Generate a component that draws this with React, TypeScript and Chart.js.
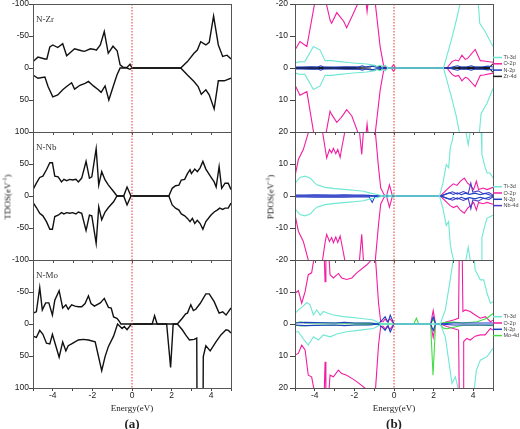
import React, { useEffect, useRef } from 'react';
import { Chart, registerables } from 'chart.js';
Chart.register(...registerables);

type P = [number, number][];

// ---------- TDOS (left column) ----------
const X_TICKS = [-4, -2, 0, 2, 4];
const TDOS_TICKS = [-100, -50, 0, 50, 100];
const PDOS_TICKS = [-20, -10, 0, 10, 20];
const PANEL_NAMES = ['N-Zr', 'N-Nb', 'N-Mo'];

const ZR_UP: P = [[-5,-10],[-4.75,-17],[-4.4,-14],[-4.3,-14],[-4.15,-33],[-4,-36],[-3.75,-32],[-3.5,-38],[-3.3,-19],[-2.9,-30],[-2.55,-27],[-2.4,-26],[-2.1,-30],[-1.9,-29],[-1.8,-28],[-1.6,-36],[-1.4,-57],[-1.2,-23],[-0.96,-34],[-0.75,-27],[-0.6,-5],[-0.45,-1],[-0.25,-1],[-0.1,-6],[0,0],[2.46,0],[2.8,-10],[3.13,-23],[3.3,-28],[3.47,-41],[3.73,-36],[3.9,-40],[4.12,-81],[4.36,-36],[4.58,-18],[4.8,-20],[5,-14]];
const ZR_DN: P = [[-5,11],[-4.75,16],[-4.4,14],[-4.24,29],[-4,45],[-3.75,42],[-3.5,34],[-3.3,29],[-3.05,23],[-2.9,33],[-2.63,27],[-2.37,24],[-2.2,21],[-1.95,28],[-1.7,34],[-1.56,38],[-1.36,28],[-1.17,50],[-0.93,27],[-0.76,11],[-0.6,0],[-0.25,0],[-0.1,2],[0,0],[2.46,0],[2.8,11],[3.13,21],[3.34,29],[3.5,41],[3.73,34],[3.9,42],[4.15,64],[4.36,20],[4.66,20],[5,16]];
const NB_UP: P = [[-5,10],[-4.83,20],[-4.66,29],[-4.5,31],[-4.32,41],[-4.15,52],[-4.02,52],[-3.9,31],[-3.73,30],[-3.56,22],[-3.44,26],[-3.3,24],[-3.14,26],[-3,25],[-2.83,26],[-2.71,22],[-2.54,28],[-2.32,54],[-2.15,28],[-2.03,30],[-1.81,74],[-1.68,17],[-1.53,38],[-1.36,25],[-1.19,17],[-0.93,7],[-0.76,0],[-0.42,0],[-0.25,14],[-0.05,0],[1.86,0],[2.03,12],[2.2,16],[2.37,17],[2.49,25],[2.66,26],[2.8,35],[2.93,41],[3,35],[3.17,42],[3.3,38],[3.44,44],[3.58,54],[3.73,42],[3.98,30],[4.15,22],[4.25,14],[4.4,46],[4.53,12],[4.7,20],[4.86,20],[5,10]];
const NB_DN: P = [[-5,-10],[-4.83,-18],[-4.66,-27],[-4.5,-31],[-4.32,-40],[-4.15,-52],[-4.02,-52],[-3.9,-32],[-3.73,-30],[-3.56,-26],[-3.44,-28],[-3.3,-26],[-3.14,-27],[-3,-26],[-2.83,-28],[-2.71,-25],[-2.54,-27],[-2.32,-54],[-2.15,-30],[-2.03,-31],[-1.81,-74],[-1.68,-17],[-1.53,-37],[-1.36,-25],[-1.19,-18],[-0.93,-9],[-0.76,0],[-0.42,0],[-0.25,-14],[-0.05,0],[1.86,0],[2.03,-14],[2.2,-19],[2.37,-22],[2.49,-28],[2.66,-31],[2.8,-35],[2.93,-40],[3.05,-35],[3.17,-43],[3.3,-38],[3.44,-43],[3.58,-52],[3.73,-40],[3.98,-30],[4.15,-25],[4.3,-22],[4.43,-19],[4.58,-21],[4.7,-19],[4.86,-19],[5,-11]];
const MO_UP: P = [[-5,-17],[-4.83,-19],[-4.66,-57],[-4.53,-22],[-4.36,-33],[-4.2,-33],[-4.02,-14],[-3.9,-37],[-3.68,-52],[-3.5,-25],[-3.34,-30],[-3.22,-23],[-3.05,-30],[-2.88,-28],[-2.71,-27],[-2.54,-27],[-2.37,-32],[-2.2,-44],[-2.07,-32],[-1.9,-28],[-1.6,-33],[-1.4,-40],[-1.19,-26],[-1.05,-25],[-0.93,-11],[-0.76,-9],[-0.64,-4],[-0.56,0],[1.02,0],[1.14,-13],[1.27,0],[2.29,0],[2.54,-9],[2.71,-16],[2.8,-17],[2.97,-30],[3.1,-21],[3.22,-23],[3.44,-32],[3.73,-47],[3.9,-47],[4.15,-35],[4.4,-17],[4.58,-19],[4.75,-14],[5,-25]];
const MO_DN: P = [[-5,19],[-4.83,21],[-4.66,10],[-4.5,16],[-4.32,30],[-4.15,31],[-4.02,16],[-3.85,34],[-3.68,52],[-3.5,28],[-3.34,42],[-3.22,34],[-3.05,31],[-2.88,28],[-2.71,25],[-2.46,24],[-2.2,25],[-1.86,28],[-1.53,73],[-1.36,51],[-1.19,35],[-0.93,19],[-0.73,0],[-0.5,7],[-0.39,4],[-0.25,9],[-0.03,0],[1.75,0],[1.95,68],[2.08,0],[2.29,0],[2.54,9],[2.71,17],[2.9,25],[3.14,24],[3.27,22],[3.32,400],[3.55,400],[3.6,51],[3.73,34],[3.95,42],[4.24,28],[4.49,17],[4.75,9],[4.87,10],[5,14]];

// ---------- PDOS (right column) ----------
const ZR_TI_UP: P = [[-5,-1.5],[-4.83,-1.9],[-4.5,-2],[-4.07,-6.7],[-3.73,-5.6],[-3.48,-2.3],[-3.15,-2.3],[-2.72,-2],[-2.3,-1.7],[-1.88,-1.5],[-1.37,-1.25],[-1.04,-0.9],[-0.87,-0.5],[-0.7,-0.9],[-0.6,-0.3],[-0.45,-0.9],[-0.3,0],[2.5,0],[2.9,-8.8],[3.15,-15],[3.35,-20.5],[3.8,-30],[4.25,-21],[4.33,-14],[4.6,-11.4],[5,-6.7]];
const ZR_TI_DN: P = [[-5,1.5],[-4.83,1.9],[-4.5,2],[-4.07,6.7],[-3.73,5.6],[-3.48,2.3],[-3.15,2.3],[-2.72,2],[-2.3,1.7],[-1.88,1.5],[-1.37,1.25],[-1.04,0.9],[-0.87,0.5],[-0.7,0.9],[-0.6,0.3],[-0.45,0.9],[-0.3,0],[2.5,0],[2.9,9],[3.15,15.2],[3.31,20.5],[3.8,30],[4.3,21],[4.4,14.2],[4.7,11],[5,6.4]];
const ZR_O_UP: P = [[-5,-5.6],[-4.75,-8.3],[-4.4,-6.7],[-4.0,-20.5],[-3.7,-30],[-3.45,-21],[-3.23,-15],[-3.15,-14],[-2.89,-17.3],[-2.67,-15.6],[-2.55,-14.7],[-2.39,-12.6],[-2.13,-16],[-1.8,-20.5],[-1.6,-25],[-1.41,-20.5],[-1.36,-17.6],[-1.3,-21],[-1.1,-28],[-0.95,-20.5],[-0.7,-6.7],[-0.53,-0.9],[-0.36,0],[-0.15,0],[-0.03,-1],[0.1,0],[2.67,0],[2.93,-2],[3.1,-2.5],[3.26,-2.2],[3.43,-4],[3.6,-2.7],[3.72,-3],[4.1,-5.8],[4.36,-2.3],[4.53,-2.2],[5,-1.8]];
const ZR_O_DN: P = [[-5,5.3],[-4.75,8.5],[-4.4,7.4],[-4.05,20.5],[-3.7,30],[-3.45,21],[-3.23,13.5],[-3.15,14.5],[-2.89,17],[-2.67,15.5],[-2.55,14.5],[-2.39,13],[-2.13,15],[-1.8,20.5],[-1.6,25],[-1.41,20.5],[-1.36,17.5],[-1.3,21],[-1.1,28],[-0.95,20.5],[-0.7,7],[-0.53,1],[-0.36,0],[-0.15,0],[-0.03,1],[0.1,0],[2.67,0],[2.93,2],[3.1,2.6],[3.26,2.3],[3.43,4],[3.6,2.9],[3.72,3.2],[4.1,5.8],[4.36,2.3],[4.53,2.2],[5,1.6]];
const ZR_N_UP: P = [[-5,-0.3],[-4.6,-0.3],[-4.2,-0.4],[-3.85,-0.3],[-3.7,-0.7],[-3.55,-0.3],[-3,-0.3],[-2.4,-0.4],[-1.8,-0.3],[-1.6,-0.7],[-1.45,-0.3],[-1.15,-0.6],[-0.95,-0.3],[-0.7,-0.2],[-0.5,0],[2.75,0],[3,-0.4],[3.2,-0.7],[3.4,-0.3],[3.7,-0.4],[3.9,-0.7],[4.1,-0.3],[4.5,-0.4],[4.75,-0.6],[5,-0.3]];
const ZR_N_DN: P = [[-5,0.3],[-4.6,0.3],[-4.2,0.4],[-3.85,0.3],[-3.7,0.7],[-3.55,0.3],[-3,0.3],[-2.4,0.4],[-1.8,0.3],[-1.6,0.7],[-1.45,0.3],[-1.15,0.6],[-0.95,0.3],[-0.7,0.2],[-0.5,0],[2.75,0],[3,0.4],[3.2,0.7],[3.4,0.3],[3.7,0.4],[3.9,0.7],[4.1,0.3],[4.5,0.4],[4.75,0.6],[5,0.3]];
const ZR_D_UP: P = [[-5,-0.15],[-4,-0.2],[-3,-0.15],[-2,-0.2],[-1.2,-0.3],[-1.0,-0.8],[-0.85,-0.3],[-0.6,-0.5],[-0.45,0],[2.8,0],[3.5,-0.2],[4.3,-0.2],[4.82,-0.2],[5,-1.3]];
const ZR_D_DN: P = [[-5,0.15],[-4,0.2],[-3,0.15],[-2,0.2],[-1.2,0.3],[-1.0,0.8],[-0.85,0.3],[-0.6,0.5],[-0.45,0],[2.8,0],[3.5,0.2],[4.3,0.2],[4.82,0.2],[5,1.3]];

const NB_TI_UP: P = [[-5,4],[-4.92,4.6],[-4.75,5.8],[-4.5,6.2],[-4.24,5.6],[-3.9,3.5],[-3.48,2.7],[-2.98,2.3],[-2.39,2],[-1.88,1.7],[-1.54,1.5],[-1.2,0.9],[-0.95,0.6],[-0.75,0.3],[-0.5,0],[-0.35,0.4],[-0.2,0],[-0.05,0.4],[0.1,0],[2.3,0],[2.47,4],[2.64,9.8],[2.76,8.8],[2.84,15],[2.93,17],[3.05,21],[3.4,28],[3.6,21],[3.75,16],[3.9,22],[4.2,30],[4.4,20.5],[4.44,13],[4.6,9],[4.7,7.2],[4.85,7.2],[5,5.6]];
const NB_TI_DN: P = [[-5,-4],[-4.92,-4.6],[-4.75,-5.8],[-4.5,-6.2],[-4.24,-5.6],[-3.9,-3.5],[-3.48,-2.7],[-2.98,-2.3],[-2.39,-2],[-1.88,-1.7],[-1.54,-1.5],[-1.2,-0.9],[-0.95,-0.6],[-0.75,-0.3],[-0.5,0],[-0.35,-0.4],[-0.2,0],[-0.05,-0.4],[0.1,0],[2.3,0],[2.47,-3.8],[2.64,-9.2],[2.76,-8],[2.84,-15],[2.93,-18],[3.05,-21],[3.4,-28],[3.6,-21],[3.75,-16],[3.9,-22],[4.2,-30],[4.4,-20.5],[4.44,-13],[4.6,-9],[4.7,-6.9],[4.85,-6.5],[5,-6]];
const NB_O_UP: P = [[-5,6.2],[-4.83,11.4],[-4.58,14.5],[-4.33,19.7],[-4.0,27],[-3.62,20.5],[-3.48,15],[-3.4,11.9],[-3.26,14.5],[-3.15,13.5],[-3.06,14.9],[-2.94,13.2],[-2.84,14.5],[-2.72,12.1],[-2.64,15],[-2.47,20.5],[-2.1,27],[-1.75,20.5],[-1.63,13],[-1.54,20.5],[-1.2,27],[-0.95,20.5],[-0.78,8.8],[-0.67,2.5],[-0.5,0.4],[-0.38,0],[-0.23,3.5],[-0.08,0],[2.34,0],[2.59,1.5],[2.84,3],[3.0,3.8],[3.18,3.3],[3.35,4.6],[3.55,5.6],[3.72,4],[3.9,3],[4.02,2],[4.16,4.6],[4.27,2],[4.5,2.5],[4.7,2],[5,2.7]];
const NB_O_DN: P = [[-5,-5.8],[-4.83,-11],[-4.58,-14.2],[-4.33,-20],[-4.0,-27],[-3.62,-20.5],[-3.48,-14.5],[-3.4,-12],[-3.26,-14.2],[-3.15,-13],[-3.06,-14.6],[-2.94,-12.8],[-2.84,-14.5],[-2.72,-12.5],[-2.64,-15],[-2.47,-20.5],[-2.1,-27],[-1.75,-20.5],[-1.63,-12],[-1.54,-20.5],[-1.2,-27],[-0.95,-20.5],[-0.78,-8.8],[-0.67,-2.5],[-0.5,-0.4],[-0.38,0],[-0.23,-3.5],[-0.08,0],[2.34,0],[2.59,-1.5],[2.84,-3],[3.0,-3.6],[3.18,-3.1],[3.35,-4.4],[3.55,-5.4],[3.72,-3.8],[3.9,-2.8],[4.02,-2],[4.16,-4.4],[4.27,-2],[4.5,-2.4],[4.7,-2],[5,-2.6]];
const NB_N_UP: P = [[-5,0.3],[-4.5,0.3],[-4,0.4],[-3,0.3],[-2.5,0.4],[-2,0.3],[-1.5,0.3],[-1.25,0.2],[-1.0,0],[2.35,0],[2.6,0.6],[2.8,1],[3.0,0.5],[3.2,1],[3.4,0.4],[3.6,0.9],[3.8,0.5],[4.1,0.9],[4.35,0.4],[4.6,0.8],[4.85,0.3],[5,0.2]];
const NB_N_DN: P = [[-5,-0.3],[-4.5,-0.3],[-4,-0.4],[-3,-0.3],[-2.5,-0.4],[-2,-0.3],[-1.5,-0.3],[-1.25,-0.3],[-1.1,-2],[-0.95,0],[2.35,0],[2.6,-0.6],[2.8,-1],[3.0,-0.5],[3.2,-1],[3.4,-0.4],[3.6,-0.9],[3.8,-0.5],[4.1,-0.9],[4.35,-0.4],[4.6,-0.8],[4.85,-0.3],[5,-0.2]];
const NB_D_UP: P = [[-5,0.1],[-2,0.1],[-0.8,0.1],[-0.5,0],[2.4,0],[2.7,0.7],[2.95,1.3],[3.2,0.6],[3.5,1.4],[3.75,0.8],[3.88,4],[3.98,1.2],[4.25,1.6],[4.5,0.7],[4.8,1.1],[5,0.3]];
const NB_D_DN: P = [[-5,-0.1],[-2,-0.1],[-0.8,-0.1],[-0.5,0],[2.4,0],[2.7,-0.7],[2.95,-1.3],[3.2,-0.6],[3.5,-1.4],[3.75,-0.8],[3.88,-4],[3.98,-1.2],[4.25,-1.6],[4.5,-0.7],[4.8,-1.1],[5,-0.3]];

const MO_TI_UP: P = [[-5,-3.3],[-4.83,-4.4],[-4.6,-5.5],[-4.4,-6.7],[-4.24,-6],[-4.07,-2.8],[-3.9,-4.4],[-3.73,-2.8],[-3.57,-3.9],[-3.31,-3.3],[-3.06,-2.8],[-2.55,-2.3],[-1.71,-1.8],[-1.04,-1.25],[-0.78,-0.4],[-0.6,0],[-0.2,0],[2.34,0],[2.59,-4.4],[2.84,-13.8],[3.0,-20.5],[3.4,-30],[4.0,-24],[4.1,-16.9],[4.36,-13.8],[4.53,-13.8],[4.7,-9.6],[4.87,-6.5],[5,-7]];
const MO_TI_DN: P = [[-5,2.4],[-4.83,2.4],[-4.6,4.5],[-4.33,6.6],[-4.07,4],[-3.82,5],[-3.57,3.4],[-3.23,4],[-2.89,3.1],[-2.39,2.4],[-1.71,1.9],[-1.04,1.4],[-0.71,0.3],[-0.6,0],[-0.2,0],[2.34,0],[2.59,4],[2.76,11.3],[2.93,18.6],[3.1,16.5],[3.25,20.5],[3.6,28],[4.05,20.5],[4.16,14.4],[4.36,11.3],[4.7,10.2],[5,7.6]];
const MO_O_UP: P = [[-5,-9.6],[-4.83,-10.4],[-4.66,-6.5],[-4.49,-10.1],[-4.33,-15.4],[-4.16,-16],[-4.04,-20.5],[-3.75,-27],[-3.52,-20.5],[-3.48,-13.2],[-3.44,-20.5],[-3.35,-22],[-3.28,-20.5],[-3.23,-15.4],[-3.06,-14.4],[-2.81,-15.8],[-2.64,-14.4],[-2.39,-13.9],[-2.13,-14.4],[-1.88,-16],[-1.37,-18.5],[-1.1,-20.3],[-1.0,-22],[-0.93,-20],[-0.78,-6.5],[-0.67,-0.7],[-0.55,-0.7],[-0.45,-1.6],[-0.35,-0.7],[-0.2,-1.6],[0,0],[1.85,0],[1.98,-4.2],[2.1,0],[2.34,0],[2.67,-0.7],[3.0,-1.25],[3.26,-1.8],[3.31,-30],[3.43,-30],[3.48,-3.9],[3.6,-4.4],[3.85,-3.9],[4.1,-2.8],[4.36,-1.8],[4.61,-2.3],[4.87,-0.7],[5,-1.2]];
const MO_O_DN: P = [[-5,9.7],[-4.83,9.2],[-4.66,6.6],[-4.49,8.1],[-4.33,16],[-4.16,16.5],[-4.04,20.5],[-3.75,27],[-3.52,20.5],[-3.48,11.8],[-3.44,20.5],[-3.35,22],[-3.28,20.5],[-3.23,16],[-3.06,16.5],[-2.81,14.4],[-2.64,15.5],[-2.39,16],[-2.13,17],[-1.88,18],[-1.37,20.5],[-1.0,22],[-0.93,20],[-0.78,6.5],[-0.67,0.7],[-0.55,0.7],[-0.45,1.6],[-0.35,0.7],[-0.2,1.6],[0,0],[1.85,0],[1.98,4.2],[2.1,0],[2.34,0],[2.67,0.8],[3.0,1.4],[3.26,1.9],[3.31,30],[3.5,30],[3.52,5.5],[3.68,4.5],[3.85,5],[4.1,3.8],[4.36,3.4],[4.6,3.4],[4.87,1.4],[5,1.9]];
const MO_N_UP: P = [[-5,-0.3],[-4.5,-0.5],[-3,-0.3],[-2.5,-0.5],[-2,-0.3],[-1.2,-0.3],[-0.8,0],[-0.6,-1.2],[-0.45,-2.3],[-0.3,-0.5],[-0.19,-2.8],[0,0],[1.85,0],[1.98,-2.2],[2.1,0],[2.3,0],[3,-0.3],[4,-0.3],[5,-0.3]];
const MO_N_DN: P = [[-5,0.3],[-4.5,0.5],[-3,0.3],[-2.5,0.5],[-2,0.3],[-1.2,0.3],[-0.8,0],[-0.6,1],[-0.45,2],[-0.3,0.5],[-0.19,2.5],[0,0],[1.85,0],[1.98,2],[2.1,0],[2.3,0],[3,0.3],[4,0.3],[5,0.3]];
const MO_D_UP: P = [[-5,-0.3],[-4.7,-0.7],[-4.5,-0.3],[-3,-0.3],[-1,-0.2],[-0.5,0],[1.0,0],[1.13,-1.8],[1.25,0],[1.85,0],[1.98,-1.5],[2.1,0],[2.3,0],[2.6,-0.5],[3.0,-0.6],[3.5,-0.3],[4.2,-0.7],[4.7,-1.8],[5,-3.3]];
const MO_D_DN: P = [[-5,0.4],[-4.7,0.6],[-4,0.4],[-2,0.3],[-0.5,0],[1.85,0],[1.97,16],[2.1,0],[2.3,0],[2.5,1.3],[2.7,1.5],[3,1],[3.5,0.4],[4.5,0.4],[5,0.5]];

const C_TI = '#6ee8d4';
const C_O = '#f21da0';
const C_N = '#1c3fc4';
const C_ZR = '#1a1a1a';
const C_NB = '#4b3bc9';
const C_MO = '#44dd44';

const LEGENDS: [string, string][][] = [
  [['Ti-3d', C_TI], ['O-2p', C_O], ['N-2p', C_N], ['Zr-4d', C_ZR]],
  [['Ti-3d', C_TI], ['O-2p', C_O], ['N-2p', C_N], ['Nb-4d', C_NB]],
  [['Ti-3d', C_TI], ['O-2p', C_O], ['N-2p', C_N], ['Mo-4d', C_MO]],
];

const IDS = ['y1', 'y2', 'y3'];

type Series = { pts: P; color: string; panel: number; width?: number };

function makeConfig(o: {
  yW: number; padRight: number; tickLen: number; tickPad: number;
  lim: number; step: number; reverse: boolean[];
  series: Series[]; labels?: string[]; legends?: [string, string][][]; legendOff?: number[];
}): any {
  const datasets: any[] = [];
  IDS.forEach((id) => {
    datasets.push({
      data: [{ x: 0, y: -o.lim }, { x: 0, y: o.lim }],
      borderColor: '#ee3030', borderWidth: 1, borderDash: [1.5, 1.5],
      pointRadius: 0, yAxisID: id, xAxisID: 'x',
    });
  });
  o.series.forEach((s) => {
    datasets.push({
      data: s.pts.map(([x, y]) => ({ x, y })),
      borderColor: s.color, borderWidth: s.width ?? 1.1, pointRadius: 0,
      tension: 0, fill: false, yAxisID: IDS[s.panel], xAxisID: 'x',
    });
  });
  const scales: any = {
    x: {
      type: 'linear', position: 'bottom', min: -5, max: 5,
      ticks: {
        stepSize: 1, autoSkip: false, maxRotation: 0, padding: 0,
        font: { family: 'Liberation Sans', size: 8.5 }, color: '#222',
        callback: (v: any) => (X_TICKS.includes(Number(v)) ? String(v) : ''),
      },
      grid: { drawOnChartArea: false, tickLength: 3, color: '#444' },
      border: { display: true, color: '#444' },
      afterFit: (s: any) => { s.height = 41; s.paddingLeft = 0; s.paddingRight = 0; },
    },
  };
  IDS.forEach((id, i) => {
    scales[id] = {
      type: 'linear', position: 'left', stack: 'col', stackWeight: 1, weight: 3 - i,
      min: -o.lim, max: o.lim, reverse: o.reverse[i],
      ticks: {
        stepSize: o.step, padding: o.tickPad,
        font: { family: 'Liberation Sans', size: 8.5 }, color: '#222',
        // the middle panel shares its end labels with the neighbours
        callback: (v: any) => (i === 1 && Math.abs(Number(v)) === o.lim ? '' : String(v)),
      },
      grid: { drawOnChartArea: false, tickLength: o.tickLen, color: '#444' },
      border: { display: true, color: '#444' },
      afterFit: (s: any) => { s.width = o.yW; s.paddingTop = 0; s.paddingBottom = 0; },
    };
  });
  const deco = {
    id: 'deco',
    beforeDatasetDraw(chart: any, args: any) {
      const ys = chart.scales[args.meta.yAxisID];
      const { left, right } = chart.chartArea;
      const ctx = chart.ctx;
      ctx.save();
      ctx.beginPath();
      ctx.rect(left, ys.top, right - left, ys.bottom - ys.top);
      ctx.clip();
    },
    afterDatasetDraw(chart: any) { chart.ctx.restore(); },
    afterDraw(chart: any) {
      const ctx = chart.ctx;
      const { left, right } = chart.chartArea;
      const xs = chart.scales.x;
      ctx.save();
      IDS.forEach((id, i) => {
        const ys = chart.scales[id];
        ctx.strokeStyle = '#555';
        ctx.lineWidth = 1;
        ctx.strokeRect(Math.round(left) + 0.5, Math.round(ys.top) + 0.5, Math.round(right - left), Math.round(ys.bottom - ys.top));
        if (i < 2) {
          ctx.beginPath();
          for (let v = -5; v <= 5; v++) {
            const px = Math.round(xs.getPixelForValue(v)) + 0.5;
            ctx.moveTo(px, ys.bottom);
            ctx.lineTo(px, ys.bottom + 3);
          }
          ctx.stroke();
        }
        if (o.labels) {
          ctx.fillStyle = '#333';
          ctx.font = '9px "Liberation Serif"';
          ctx.textBaseline = 'middle';
          ctx.textAlign = 'left';
          ctx.fillText(o.labels[i], left + 3, ys.top + 16);
        }
        if (o.legends && o.legendOff) {
          o.legends[i].forEach(([name, col], j) => {
            const y = ys.top + o.legendOff![i] + 6.3 * j;
            ctx.strokeStyle = col;
            ctx.lineWidth = 1.5;
            ctx.beginPath();
            ctx.moveTo(right, y);
            ctx.lineTo(right + 9, y);
            ctx.stroke();
            ctx.fillStyle = '#444';
            ctx.font = '5.5px "Liberation Sans"';
            ctx.textBaseline = 'middle';
            ctx.textAlign = 'left';
            ctx.fillText(name, right + 10.5, y);
          });
        }
      });
      ctx.restore();
    },
  };
  return {
    type: 'line',
    data: { datasets },
    options: {
      responsive: false, maintainAspectRatio: false, animation: false, events: [],
      layout: { padding: { left: 0, top: 4, right: o.padRight, bottom: 0 } },
      plugins: { legend: { display: false }, tooltip: { enabled: false } },
      scales,
    },
    plugins: [deco],
  };
}

const LEFT_SERIES: Series[] = [
  { pts: ZR_UP, color: '#111', panel: 0, width: 1.4 },
  { pts: ZR_DN, color: '#111', panel: 0, width: 1.4 },
  { pts: NB_UP, color: '#111', panel: 1, width: 1.4 },
  { pts: NB_DN, color: '#111', panel: 1, width: 1.4 },
  { pts: MO_UP, color: '#111', panel: 2, width: 1.4 },
  { pts: MO_DN, color: '#111', panel: 2, width: 1.4 },
];

const RIGHT_SERIES: Series[] = [
  { pts: ZR_TI_UP, color: C_TI, panel: 0 }, { pts: ZR_TI_DN, color: C_TI, panel: 0 },
  { pts: ZR_N_UP, color: C_N, panel: 0 }, { pts: ZR_N_DN, color: C_N, panel: 0 },
  { pts: ZR_D_UP, color: C_ZR, panel: 0 }, { pts: ZR_D_DN, color: C_ZR, panel: 0 },
  { pts: ZR_O_UP, color: C_O, panel: 0 }, { pts: ZR_O_DN, color: C_O, panel: 0 },
  { pts: NB_TI_UP, color: C_TI, panel: 1 }, { pts: NB_TI_DN, color: C_TI, panel: 1 },
  { pts: NB_N_UP, color: C_N, panel: 1 }, { pts: NB_N_DN, color: C_N, panel: 1 },
  { pts: NB_D_UP, color: C_NB, panel: 1 }, { pts: NB_D_DN, color: C_NB, panel: 1 },
  { pts: NB_O_UP, color: C_O, panel: 1 }, { pts: NB_O_DN, color: C_O, panel: 1 },
  { pts: MO_TI_UP, color: C_TI, panel: 2 }, { pts: MO_TI_DN, color: C_TI, panel: 2 },
  { pts: MO_N_UP, color: C_N, panel: 2 }, { pts: MO_N_DN, color: C_N, panel: 2 },
  { pts: MO_D_UP, color: C_MO, panel: 2 }, { pts: MO_D_DN, color: C_MO, panel: 2 },
  { pts: MO_O_UP, color: C_O, panel: 2 }, { pts: MO_O_DN, color: C_O, panel: 2 },
];

const serif = '"Liberation Serif", "DejaVu Serif", serif';

export default function App() {
  const lRef = useRef<HTMLCanvasElement>(null);
  const rRef = useRef<HTMLCanvasElement>(null);
  useEffect(() => {
    const c1 = new Chart(lRef.current!, makeConfig({
      yW: 33, padRight: 29, tickLen: 4, tickPad: 0, lim: TDOS_TICKS[4], step: TDOS_TICKS[1] - TDOS_TICKS[0],
      reverse: [true, false, true], series: LEFT_SERIES, labels: PANEL_NAMES,
    }));
    const c2 = new Chart(rRef.current!, makeConfig({
      yW: 35, padRight: 27, tickLen: 5, tickPad: 2, lim: PDOS_TICKS[4], step: PDOS_TICKS[1] - PDOS_TICKS[0],
      reverse: [true, false, true], series: RIGHT_SERIES, legends: LEGENDS, legendOff: [53.5, 54.7, 56.7],
    }));
    return () => { c1.destroy(); c2.destroy(); };
  }, []);
  const rot: React.CSSProperties = {
    position: 'absolute', transform: 'translate(-50%,-50%) rotate(-90deg)', whiteSpace: 'nowrap',
    fontFamily: serif, fontSize: 9, color: '#222', lineHeight: 1,
  };
  const ctr: React.CSSProperties = {
    position: 'absolute', transform: 'translate(-50%,-50%)', whiteSpace: 'nowrap',
    fontFamily: serif, color: '#222', lineHeight: 1,
  };
  return (
    <div style={{ position: 'absolute', left: 0, top: 0, width: 520, height: 429, background: '#fff', overflow: 'hidden' }}>
      <canvas ref={lRef} width={260} height={429} style={{ position: 'absolute', left: 0, top: 0 }} />
      <canvas ref={rRef} width={260} height={429} style={{ position: 'absolute', left: 260, top: 0 }} />
      <div style={{ ...rot, left: 7, top: 197 }}>TDOS(eV<sup style={{ fontSize: 6 }}>-1</sup>)</div>
      <div style={{ ...rot, left: 270, top: 197 }}>PDOS(eV<sup style={{ fontSize: 6 }}>-1</sup>)</div>
      <div style={{ ...ctr, left: 132, top: 408, fontSize: 9 }}>Energy(eV)</div>
      <div style={{ ...ctr, left: 394, top: 408, fontSize: 9 }}>Energy(eV)</div>
      <div style={{ ...ctr, left: 132, top: 423, fontSize: 13, fontWeight: 'bold' }}>(a)</div>
      <div style={{ ...ctr, left: 394, top: 423, fontSize: 13, fontWeight: 'bold' }}>(b)</div>
    </div>
  );
}
